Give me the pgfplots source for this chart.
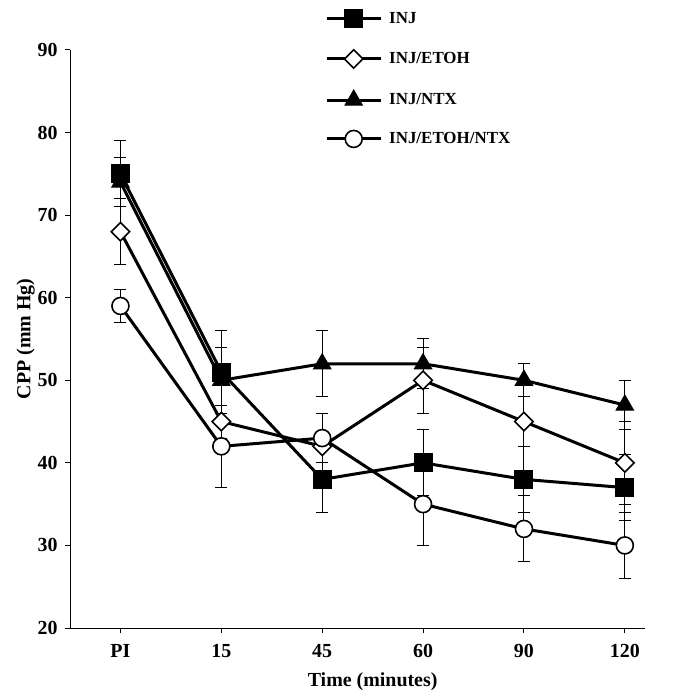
\documentclass[border=0pt]{standalone}
\usepackage{fontspec}
\setmainfont{Liberation Serif}
\usepackage{pgfplots}
\pgfplotsset{compat=1.18}
\usetikzlibrary{calc}
\begin{document}
\begin{tikzpicture}
\begin{axis}[
  scale only axis, width=575bp, height=578bp,
  xmin=-0.5, xmax=5.2, ymin=20, ymax=90,
  axis x line*=bottom, axis y line*=left,
  axis line style={line width=1bp,-},
  xtick={0,...,5}, xticklabels={PI,15,45,60,90,120},
  ytick={20,30,...,90},
  tick align=outside, major tick length=5bp,
  tick style={line width=1bp,black},
  /pgf/number format/assume math mode=true,
  tick label style={font=\fontsize{20}{22}\selectfont\bfseries},
  xticklabel style={yshift=-8bp},
  yticklabel style={xshift=-4bp},
  label style={font=\fontsize{20}{22}\selectfont\bfseries},
  xlabel={Time (minutes)},
  ylabel={CPP (mm Hg)},
  xlabel style={at={(axis cs:2.5,20)},anchor=north,yshift=-41bp},
  ylabel style={yshift=-4bp},
  clip=false,
  legend style={at={(0.4435,1.07)},anchor=north west,draw=none,fill=none,
    inner sep=0pt,
    font=\fontsize{17}{19}\selectfont\bfseries,
    row sep=22bp,
    cells={anchor=west},
    nodes={inner xsep=7bp}},
  legend image code/.code={\draw[#1,mark repeat=2,mark phase=2] plot coordinates {(0bp,0bp) (27bp,0bp) (54bp,0bp)};},
  every axis plot/.append style={black,line width=3bp},
  error bars/y dir=both, error bars/y explicit,
  error bars/error bar style={line width=1bp,black},
  error bars/error mark options={rotate=90,mark size=6bp,line width=1bp,black},
]
\addplot[mark=square*,mark size=9bp,mark options={fill=black,line width=1bp,solid}]
 coordinates {(0,75)+-(0,4) (1,51)+-(0,5) (2,38)+-(0,4) (3,40)+-(0,4) (4,38)+-(0,4) (5,37)+-(0,4)};
\addlegendentry{INJ}
\addplot[mark=square*,mark size=6.5bp,mark options={rotate=45,fill=white,line width=1.6bp,solid}]
 coordinates {(0,68)+-(0,4) (1,45)+-(0,2) (2,42)+-(0,4) (3,50)+-(0,4) (4,45)+-(0,3) (5,40)+-(0,5)};
\addlegendentry{INJ/ETOH}
\addplot[mark=triangle*,mark size=10bp,mark options={fill=black,line width=1bp,solid}]
 coordinates {(0,74)+-(0,3) (1,50)+-(0,4) (2,52)+-(0,4) (3,52)+-(0,3) (4,50)+-(0,2) (5,47)+-(0,3)};
\addlegendentry{INJ/NTX}
\addplot[mark=*,mark size=8.5bp,mark options={fill=white,line width=1.6bp,solid}]
 coordinates {(0,59)+-(0,2) (1,42)+-(0,5) (2,43)+-(0,3) (3,35)+-(0,5) (4,32)+-(0,4) (5,30)+-(0,4)};
\addlegendentry{INJ/ETOH/NTX}
\end{axis}
\pgfresetboundingbox
\useasboundingbox ($(current axis.south west)+(-70bp,-63bp)$) rectangle ($(current axis.north east)+(35bp,50bp)$);
\end{tikzpicture}
\end{document}
